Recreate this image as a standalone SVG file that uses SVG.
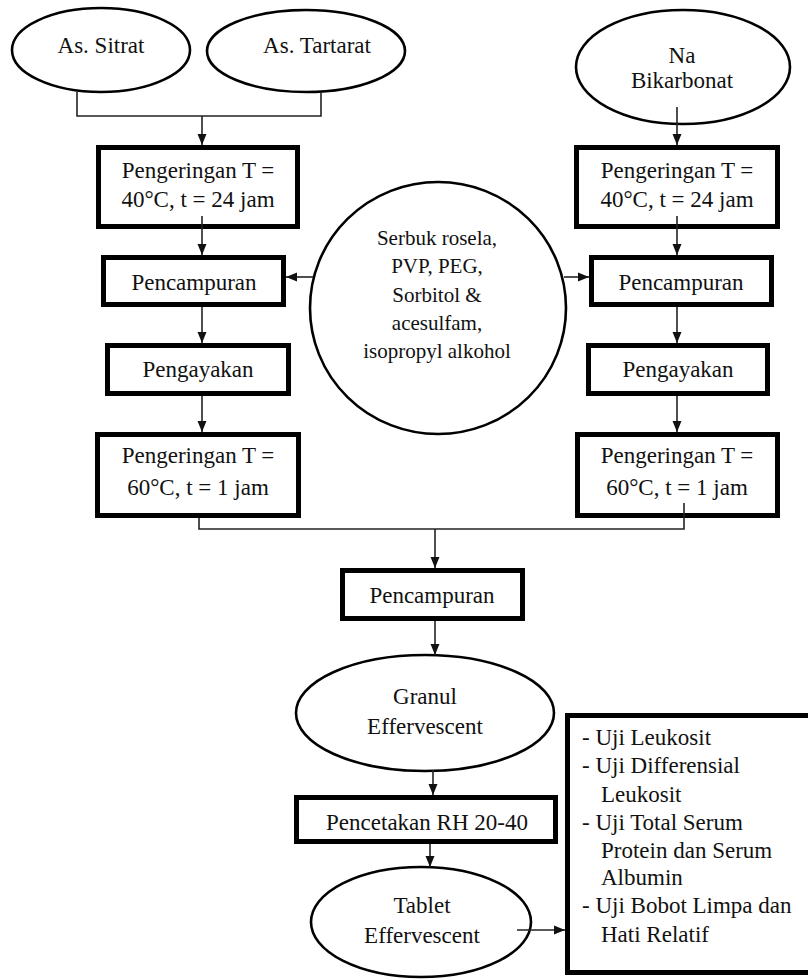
<svg xmlns="http://www.w3.org/2000/svg" width="808" height="979" viewBox="0 0 808 979">
<style>
.bx{fill:#fff;stroke:#000;stroke-width:5}
.el{fill:#fff;stroke:#000;stroke-width:2.6}
.t{font-family:"Liberation Serif","Times New Roman",serif;font-size:23px;fill:#111;text-anchor:middle}
.ts{font-family:"Liberation Serif","Times New Roman",serif;font-size:21px;fill:#111;text-anchor:middle}
.tl{font-family:"Liberation Serif","Times New Roman",serif;font-size:23px;fill:#111}
.c{fill:none;stroke:#222;stroke-width:1.6}
</style>
<defs>
<marker id="ah" markerUnits="userSpaceOnUse" markerWidth="12" markerHeight="12" viewBox="0 0 12 12" refX="11" refY="6" orient="auto">
<path d="M0,1.5 L11,6 L0,10.5 Z" fill="#111"/>
</marker>
</defs>
<rect width="808" height="979" fill="#fff"/>

<g id="sitrat"><ellipse class="el" cx="101" cy="50" rx="89" ry="42"/><text class="t" x="101" y="53">As. Sitrat</text></g>
<g id="tartarat"><ellipse class="el" cx="306" cy="51" rx="99" ry="41"/><text class="t" x="317" y="53">As. Tartarat</text></g>
<g id="nabikarbonat"><ellipse class="el" cx="683" cy="67" rx="107" ry="57"/><text class="t" x="682" y="63">Na</text><text class="t" x="682" y="88">Bikarbonat</text></g>

<g id="kering40L"><rect class="bx" x="98.5" y="147.5" width="199" height="79"/><text class="t" x="198" y="178">Pengeringan T =</text><text class="t" x="198" y="207">40°C, t = 24 jam</text></g>
<g id="kering40R"><rect class="bx" x="576.5" y="147.5" width="201" height="79"/><text class="t" x="677" y="178">Pengeringan T =</text><text class="t" x="677" y="207">40°C, t = 24 jam</text></g>

<g id="campurL"><rect class="bx" x="103.5" y="257.5" width="180" height="47"/><text class="t" x="194" y="290">Pencampuran</text></g>
<g id="campurR"><rect class="bx" x="591.5" y="257.5" width="180" height="47"/><text class="t" x="681" y="290">Pencampuran</text></g>

<g id="bahan"><ellipse class="el" cx="438" cy="308" rx="128" ry="126"/>
<text class="ts" x="437" y="245">Serbuk rosela,</text>
<text class="ts" x="437" y="273">PVP, PEG,</text>
<text class="ts" x="437" y="302">Sorbitol &amp;</text>
<text class="ts" x="437" y="330">acesulfam,</text>
<text class="ts" x="437" y="358">isopropyl alkohol</text></g>

<g id="ayakL"><rect class="bx" x="107.5" y="345.5" width="181" height="48"/><text class="t" x="198" y="377">Pengayakan</text></g>
<g id="ayakR"><rect class="bx" x="588.5" y="345.5" width="179" height="48"/><text class="t" x="678" y="377">Pengayakan</text></g>

<g id="kering60L"><rect class="bx" x="97.5" y="434.5" width="201" height="81"/><text class="t" x="198" y="463">Pengeringan T =</text><text class="t" x="198" y="495">60°C, t = 1 jam</text></g>
<g id="kering60R"><rect class="bx" x="577.5" y="434.5" width="200" height="81"/><text class="t" x="677" y="463">Pengeringan T =</text><text class="t" x="677" y="495">60°C, t = 1 jam</text></g>

<g id="campur2"><rect class="bx" x="342.5" y="570.5" width="180" height="48"/><text class="t" x="432" y="603">Pencampuran</text></g>
<g id="granul"><ellipse class="el" cx="425" cy="713" rx="129" ry="58"/><text class="t" x="425" y="704">Granul</text><text class="t" x="425" y="734">Effervescent</text></g>
<g id="cetak"><rect class="bx" x="296.5" y="797.5" width="259" height="44"/><text class="t" x="427" y="830">Pencetakan RH 20-40</text></g>
<g id="tablet"><ellipse class="el" cx="421" cy="922" rx="110" ry="55"/><text class="t" x="422" y="913">Tablet</text><text class="t" x="422" y="943">Effervescent</text></g>

<g id="uji"><rect class="bx" x="567.5" y="715.5" width="250" height="257"/>
<text class="tl" x="582" y="745">- Uji Leukosit</text>
<text class="tl" x="582" y="773">- Uji Differensial</text>
<text class="tl" x="601" y="802">Leukosit</text>
<text class="tl" x="582" y="830">- Uji Total Serum</text>
<text class="tl" x="601" y="858">Protein dan Serum</text>
<text class="tl" x="601" y="885">Albumin</text>
<text class="tl" x="582" y="913">- Uji Bobot Limpa dan</text>
<text class="tl" x="601" y="942">Hati Relatif</text></g>

<g id="connectors">
<path class="c" d="M77,92 V116 H321 V92"/>
<path class="c" d="M202,116 V145" marker-end="url(#ah)"/>
<path class="c" d="M677,107 V145" marker-end="url(#ah)"/>
<path class="c" d="M202,216 V255" marker-end="url(#ah)"/>
<path class="c" d="M677,216 V255" marker-end="url(#ah)"/>
<path class="c" d="M313,277 H286" marker-end="url(#ah)"/>
<path class="c" d="M564,277 H589" marker-end="url(#ah)"/>
<path class="c" d="M202,307 V343" marker-end="url(#ah)"/>
<path class="c" d="M677,307 V343" marker-end="url(#ah)"/>
<path class="c" d="M202,396 V432" marker-end="url(#ah)"/>
<path class="c" d="M677,396 V432" marker-end="url(#ah)"/>
<path class="c" d="M199,518 V529 H684 V503"/>
<path class="c" d="M435,529 V568" marker-end="url(#ah)"/>
<path class="c" d="M435,621 V655" marker-end="url(#ah)"/>
<path class="c" d="M433,770 V795" marker-end="url(#ah)"/>
<path class="c" d="M430,844 V867" marker-end="url(#ah)"/>
<path class="c" d="M517,930 H565" marker-end="url(#ah)"/>
</g>
</svg>
